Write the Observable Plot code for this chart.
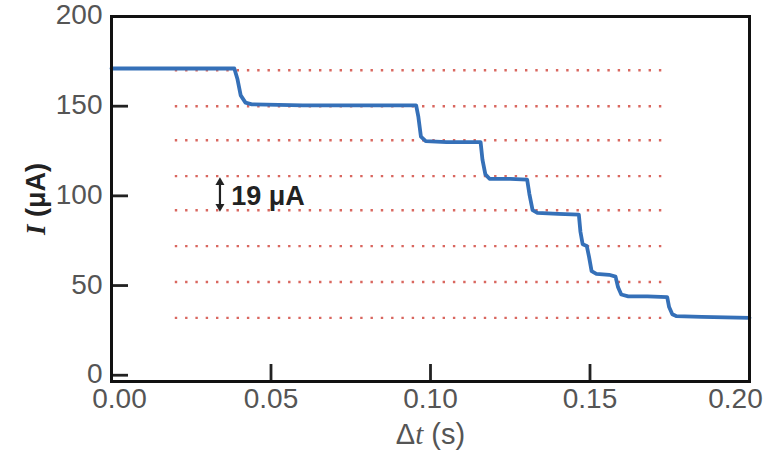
<!DOCTYPE html>
<html><head><meta charset="utf-8">
<script src="https://cdn.jsdelivr.net/npm/d3@7"></script>
<script src="https://cdn.jsdelivr.net/npm/@observablehq/plot@0.6"></script>
<style>body{margin:0;background:#fff} svg{display:block}</style>
</head><body><div id="chart"></div>
<script>
// Current trace (time in s, current in µA)
const timeS = [0.000, 0.0385, 0.0395, 0.0405, 0.042, 0.044, 0.060, 0.080, 0.0955,
  0.0962, 0.097, 0.0985, 0.105, 0.1157, 0.1163, 0.1172, 0.1185, 0.125, 0.1303,
  0.131, 0.132, 0.1335, 0.140, 0.1465, 0.147, 0.1477, 0.149, 0.1497, 0.1505,
  0.152, 0.156, 0.158, 0.1588, 0.1598, 0.162, 0.168, 0.1742, 0.1748, 0.1758,
  0.177, 0.185, 0.200];
const currentUA = [171, 171, 165, 156, 152, 151, 150.5, 150.5, 150.5,
  144, 133, 130.5, 130, 130, 120, 112, 109.5, 109.5, 109,
  101, 92, 90.5, 90, 89.5, 80, 73, 72, 66, 58,
  56.5, 56, 55, 49, 45, 44, 44, 43.5, 38, 34,
  33, 32.5, 32];
// Dotted reference levels (µA)
const levelValues = [170, 150, 131, 111, 92, 72, 52, 32];
const levelStartS = 0.020;
const levelEndS = 0.173;
// Annotation
const annotationText = "19 μA";
const arrowX = 0.034;
const arrowTopUA = 107.5;
const arrowBottomUA = 94;
const annotationX = 0.0375;
const annotationY = 99.5;
// Axes
const xTicks = [0, 0.05, 0.10, 0.15, 0.20];
const xTickLabels = ["0.00", "0.05", "0.10", "0.15", "0.20"];
const yTicks = [0, 50, 100, 150, 200];
const yTickLabels = ["0", "50", "100", "150", "200"];
const xTitle = "Δt (s)";
const yTitle = "I (μA)";

const trace = timeS.map((t, i) => ({t, I: currentUA[i]}));
const levels = levelValues.map(v => ({v}));
const fmtX = d => xTickLabels[xTicks.indexOf(d)];
const fmtY = d => yTickLabels[yTicks.indexOf(d)];

const W = 771, H = 455, mL = 111, mR = 22, mT = 16, mB = 74;
const tickLen = 17;
const labelStyle = {fontSize: 28, fill: "#555", tickSize: 0};

const plot = Plot.plot({
  width: W, height: H,
  marginLeft: mL, marginRight: mR, marginTop: mT, marginBottom: mB,
  style: {fontFamily: "'Liberation Sans', Arial, sans-serif", background: "#fff"},
  x: {domain: [0, 0.2]},
  y: {domain: [-3.5, 200]},
  marks: [
    Plot.ruleY(levels, {y: "v", x1: levelStartS, x2: levelEndS, stroke: "#d9675f", strokeWidth: 2.4, strokeDasharray: "2.4 7.9"}),
    Plot.line(trace, {x: "t", y: "I", stroke: "#3570b8", strokeWidth: 3.8, strokeLinejoin: "round"}),
    Plot.ruleX([arrowX], {y1: arrowBottomUA, y2: arrowTopUA, stroke: "#222", strokeWidth: 2.2}),
    Plot.dot([arrowTopUA], {x: arrowX, y: d => d, symbol: "triangle2", r: 4.3, fill: "#222", stroke: "none"}),
    Plot.dot([arrowBottomUA], {x: arrowX, y: d => d, symbol: "triangle2", r: 4.3, fill: "#222", stroke: "none", rotate: 180}),
    Plot.text([annotationText], {x: annotationX, y: annotationY, text: d => d, textAnchor: "start", fontWeight: "bold", fontSize: 27, fill: "#222"}),
    // inward ticks
    Plot.tickX(xTicks, {x: d => d, insetTop: H - mT - mB - tickLen, stroke: "#222", strokeWidth: 2.8}),
    Plot.tickY(yTicks, {y: d => d, insetRight: W - mL - mR - tickLen, stroke: "#222", strokeWidth: 2.8}),
    // tick labels
    Plot.axisX([xTicks[0]], {...labelStyle, tickPadding: 7, dx: 8, tickFormat: fmtX, label: null}),
    Plot.axisX(xTicks.slice(1, -1), {...labelStyle, tickPadding: 7, tickFormat: fmtX, label: xTitle, labelAnchor: "center", labelOffset: 62}),
    Plot.axisX([xTicks[xTicks.length - 1]], {...labelStyle, tickPadding: 7, dx: -14, tickFormat: fmtX, label: null}),
    Plot.axisY(yTicks, {...labelStyle, tickPadding: 9, dy: -1, tickFormat: fmtY, label: yTitle, labelAnchor: "center", labelOffset: 86}),
    Plot.frame({stroke: "#111", strokeWidth: 3})
  ]
});
document.getElementById("chart").appendChild(plot);

// Style axis titles (italic t, bold italic I)
const svg = d3.select(plot);
svg.selectAll("g[aria-label='x-axis label'] text").each(function() {
  const t = d3.select(this);
  t.text(null).attr("font-size", 29).attr("fill", "#555");
  t.append("tspan").text("Δ");
  t.append("tspan").attr("font-style", "italic").attr("font-family", "'Liberation Serif', serif").text("t");
  t.append("tspan").text(" (s)");
});
svg.selectAll("g[aria-label='y-axis label'] text").each(function() {
  const t = d3.select(this);
  t.text(null).attr("font-size", 27).attr("fill", "#222").attr("font-weight", "bold");
  t.append("tspan").attr("font-style", "italic").attr("font-family", "'Liberation Serif', serif").text("I");
  t.append("tspan").text(" (μA)");
});
</script>
</body></html>
